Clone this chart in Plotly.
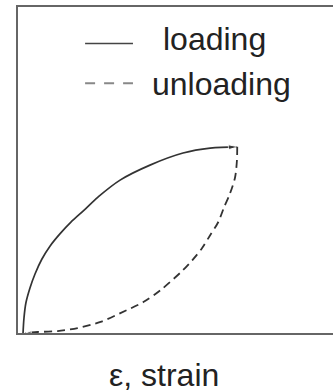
import plotly.graph_objects as go

# Loading branch (strain, stress) - schematic, normalised units
load_strain = [0.016, 0.019, 0.025, 0.038, 0.054, 0.076, 0.102, 0.133, 0.168, 0.210, 0.254, 0.324, 0.419, 0.524, 0.610, 0.695]
load_stress = [0.000, 0.046, 0.092, 0.138, 0.181, 0.227, 0.267, 0.304, 0.340, 0.377, 0.417, 0.469, 0.515, 0.552, 0.567, 0.571]

# Unloading branch
unload_strain = [0.696, 0.695, 0.689, 0.673, 0.654, 0.635, 0.610, 0.584, 0.553, 0.524, 0.452, 0.398, 0.325, 0.262, 0.189, 0.126, 0.062, 0.024]
unload_stress = [0.571, 0.529, 0.477, 0.428, 0.385, 0.339, 0.300, 0.260, 0.223, 0.193, 0.131, 0.095, 0.061, 0.034, 0.015, 0.006, 0.003, 0.000]

legend_labels = ["loading", "unloading"]
x_label = "ε, strain"

INK = "#333333"
FONT = "Liberation Sans, Arial, Helvetica, sans-serif"

def arrow_sizes(n, s=8):
    return [0] * (n - 1) + [s]

fig = go.Figure()
fig.add_trace(go.Scatter(
    x=load_strain, y=load_stress, mode="lines+markers", name=legend_labels[0],
    line=dict(color=INK, width=1.7, shape="spline", smoothing=1.0),
    marker=dict(symbol="arrow", angleref="previous", size=arrow_sizes(len(load_strain), 9), color=INK),
    showlegend=False, hoverinfo="skip"))
fig.add_trace(go.Scatter(
    x=unload_strain, y=unload_stress, mode="lines+markers", name=legend_labels[1],
    line=dict(color=INK, width=1.8, dash="8px,5px", shape="spline", smoothing=0.8),
    marker=dict(symbol="arrow", angleref="previous", size=arrow_sizes(len(unload_strain), 6), color=INK),
    showlegend=False, hoverinfo="skip"))

# legend samples (paper coords)
fig.add_shape(type="line", xref="paper", yref="paper", x0=0.213, x1=0.365, y0=0.888, y1=0.888,
              line=dict(color="#444444", width=1.6))
fig.add_shape(type="line", xref="paper", yref="paper", x0=0.213, x1=0.365, y0=0.766, y1=0.766,
              line=dict(color="#888888", width=2, dash="10px,9px"))

fig.add_annotation(xref="paper", yref="paper", x=0.455, y=0.903, xanchor="left", yanchor="middle",
                   text=legend_labels[0], showarrow=False, font=dict(family=FONT, size=32, color="#222222"))
fig.add_annotation(xref="paper", yref="paper", x=0.420, y=0.765, xanchor="left", yanchor="middle",
                   text=legend_labels[1], showarrow=False, font=dict(family=FONT, size=32, color="#222222"))
fig.add_annotation(xref="paper", yref="paper", x=0.462, y=-0.128, xanchor="center", yanchor="middle",
                   text=x_label, showarrow=False, font=dict(family=FONT, size=32, color="#222222"))

axis_common = dict(showgrid=False, zeroline=False, showticklabels=False, ticks="",
                   linecolor="#666666", linewidth=2, range=[0, 1], fixedrange=True)
fig.update_xaxes(showline=True, mirror=True, **axis_common)
fig.update_yaxes(showline=True, mirror=False, **axis_common)

fig.update_layout(
    width=333, height=392,
    margin=dict(l=18, r=0, t=7, b=59),
    paper_bgcolor="white", plot_bgcolor="white",
)

fig.write_html("out.html", config={"displayModeBar": False},
               post_script="document.body.style.margin='0';document.body.style.overflow='hidden';")
